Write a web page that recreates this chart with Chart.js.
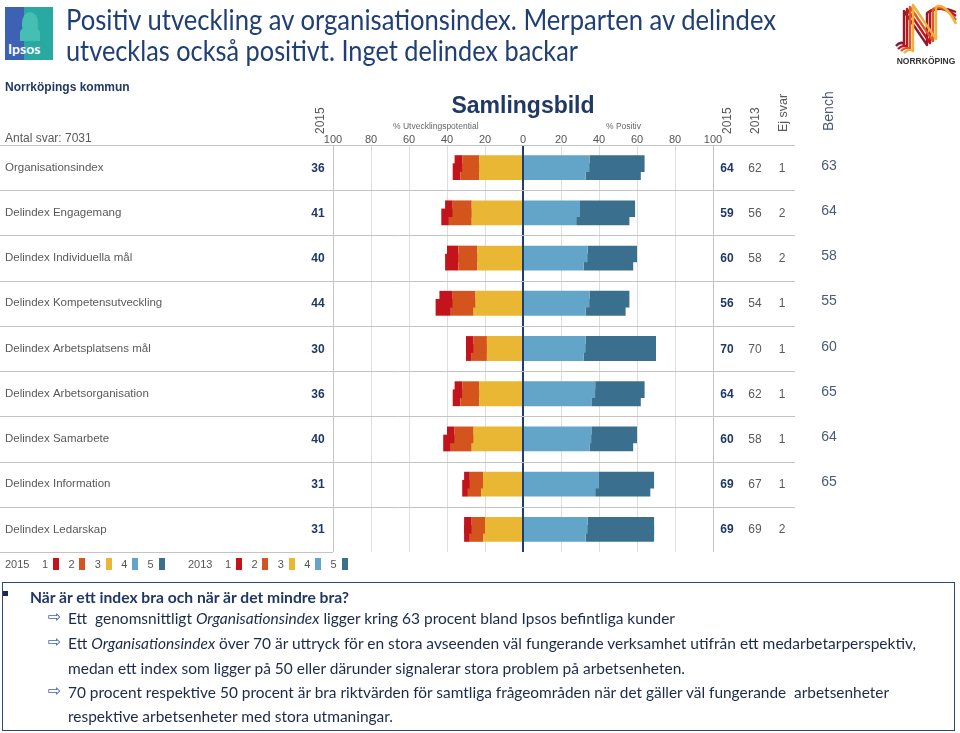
<!DOCTYPE html>
<html><head><meta charset="utf-8">
<script src="https://cdn.jsdelivr.net/npm/chart.js@4/dist/chart.umd.min.js"></script>
<style>
body{margin:0;width:960px;height:733px;position:relative;background:#fff;font-family:"Liberation Sans",Arial,sans-serif;overflow:hidden}
.a{position:absolute;white-space:nowrap}
.rot{position:absolute;white-space:nowrap;transform:rotate(-90deg);text-align:left}
.fit{transform-origin:0 50%}
.box{position:absolute;left:2px;top:582px;width:953px;height:149px;border:1.5px solid #2a4777;box-sizing:border-box}
.bx{position:absolute;white-space:nowrap;font-family:Lato,"Open Sans",sans-serif;font-size:16px;color:#1c2a4a;line-height:20px}
.arr{position:absolute;font-family:"DejaVu Sans",sans-serif;font-size:16px;color:#3b62b0;line-height:20px}
.tt{position:absolute;white-space:nowrap;font-family:Lato,"Open Sans",sans-serif;font-size:28px;line-height:31px;color:#1f3f75}
</style></head><body>
<canvas id="c" width="960" height="733" style="position:absolute;left:0;top:0"></canvas>

<!-- Ipsos logo -->
<div class="a" style="left:5px;top:7px;width:48px;height:53px;background:linear-gradient(90deg,#3d62b3 0%,#3d62b3 40%,#2aa9a2 40%,#2aa9a2 100%)">
  <div style="position:absolute;left:17px;top:5px;width:16px;height:22px;border-radius:50% 50% 40% 40%;background:#45bfb3"></div>
  <div style="position:absolute;left:15px;top:20px;width:20px;height:14px;border-radius:40% 40% 0 0;background:#45bfb3"></div>
  <div style="position:absolute;left:3px;top:33px;color:#fff;font-weight:bold;font-size:14px;font-family:Lato,'Liberation Sans',sans-serif">Ipsos</div>
</div>

<div class="tt fit" data-w="710" style="left:66px;top:4px">Positiv utveckling av organisationsindex. Merparten av delindex</div>
<div class="tt fit" data-w="512" style="left:66px;top:35px">utvecklas också positivt. Inget delindex backar</div>

<!-- Norrköping logo -->
<svg class="a" style="left:893px;top:2px" width="66" height="66" viewBox="0 0 66 66">
  <g fill="none" stroke-width="2.4" stroke-linejoin="round">
    <path d="M3 44 Q7 39 11 42 L11 9 L34 43 L34 11 Q46 3 63 10" stroke="#8c1d2e"/>
    <path d="M5 47 Q10 42 14 45 L14 7 L37 41 L37 9 Q48 2 63 14" stroke="#c3141c"/>
    <path d="M8 49 Q13 44 17 47 L17 5 L40 39 L40 7 Q50 1 63 18" stroke="#e0571f"/>
    <path d="M11 51 Q16 46 20 49 L20 3 L43 37 L43 5 Q52 0 63 22" stroke="#f0b03e"/>
  </g>
  <text x="33" y="62" text-anchor="middle" font-family="Liberation Sans" font-weight="bold" font-size="8.5" fill="#333">NORRKÖPING</text>
</svg>

<div class="a" style="left:5px;top:80px;font-size:12px;font-weight:bold;color:#1f3864">Norrköpings kommun</div>
<div class="a" style="left:5px;top:131px;font-size:12px;color:#595959">Antal svar: 7031</div>

<div class="a" style="left:0;width:1046px;top:92px;text-align:center;font-size:23px;font-weight:bold;color:#1f3864">Samlingsbild</div>
<div class="a" style="left:393px;top:121px;font-size:8.5px;color:#666">% Utvecklingspotential</div>
<div class="a" style="left:606px;top:121px;font-size:8.5px;color:#666">% Positiv</div>

<div class="rot" style="left:295px;top:102px;width:50px;height:14px;line-height:14px;font-size:12px;color:#595959">2015</div>
<div class="rot" style="left:702px;top:102px;width:50px;height:14px;line-height:14px;font-size:12px;color:#595959">2015</div>
<div class="rot" style="left:730px;top:102px;width:50px;height:14px;line-height:14px;font-size:12px;color:#595959">2013</div>
<div class="rot" style="left:758px;top:100px;width:50px;height:14px;line-height:14px;font-size:12.5px;color:#595959">Ej svar</div>
<div class="rot" style="left:803px;top:98px;width:50px;height:16px;line-height:16px;font-size:14px;color:#4a5a75">Bench</div>

<div id="cols"></div>
<div id="legend"></div>

<div class="box"></div>
<div class="a" style="left:3px;top:591px;width:5px;height:5px;background:#1c2a4a"></div>
<div class="bx fit" data-w="319" style="left:30px;top:587px;font-weight:bold;color:#1f3864">När är ett index bra och när är det mindre bra?</div>
<div class="arr" style="left:48px;top:607px">⇨</div>
<div class="bx fit" data-w="607" style="left:68px;top:608px">Ett&nbsp; genomsnittligt <i>Organisationsindex</i> ligger kring 63 procent bland Ipsos befintliga kunder</div>
<div class="arr" style="left:48px;top:632px">⇨</div>
<div class="bx fit" data-w="848" style="left:68px;top:633px">Ett <i>Organisationsindex</i> över 70 är uttryck för en stora avseenden väl fungerande verksamhet utifrån ett medarbetarperspektiv,</div>
<div class="bx fit" data-w="617" style="left:68px;top:658px">medan ett index som ligger på 50 eller därunder signalerar stora problem på arbetsenheten.</div>
<div class="arr" style="left:48px;top:681px">⇨</div>
<div class="bx fit" data-w="821" style="left:68px;top:682px">70 procent respektive 50 procent är bra riktvärden för samtliga frågeområden när det gäller väl fungerande&nbsp; arbetsenheter</div>
<div class="bx fit" data-w="325" style="left:68px;top:706px">respektive arbetsenheter med stora utmaningar.</div>

<script>
const categories = ['Organisationsindex','Delindex Engagemang','Delindex Individuella mål','Delindex Kompetensutveckling','Delindex Arbetsplatsens mål','Delindex Arbetsorganisation','Delindex Samarbete','Delindex Information','Delindex Ledarskap'];
// 2015 share per answer step 1..5
const s2015_1 = [4,4,6,7,4,4,4,3,4];
const s2015_2 = [9,10,10,12,7,9,10,7,7];
const s2015_3 = [23,27,24,25,19,23,26,21,20];
const s2015_4 = [35,30,34,35,33,38,36,40,34];
const s2015_5 = [29,29,26,21,37,26,24,29,35];
// 2013 share per answer step 1..5
const s2013_1 = [4,4,7,8,3,4,4,3,3];
const s2013_2 = [10,12,10,12,8,10,11,7,7];
const s2013_3 = [23,27,24,26,19,23,27,22,21];
const s2013_4 = [33,28,32,33,32,36,35,38,33];
const s2013_5 = [29,28,26,21,38,26,23,29,36];
// table columns
const neg2015 = [36,41,40,44,30,36,40,31,31];
const pos2015 = [64,59,60,56,70,64,60,69,69];
const pos2013 = [62,56,58,54,70,62,58,67,69];
const ejSvar = [1,2,2,1,1,1,1,1,2];
const bench = [63,64,58,55,60,65,64,65,null];
const stepLabels = ['1','2','3','4','5'];
const xMin = -100, xMax = 100, xStep = 20;

const colors = ['#c3141c','#d4541e','#e9b733','#63a5c8','#3a6f8e'];
const neg = a => a.map(v => -v);

const datasets = [
  {label:'2015 3', data:neg(s2015_3), backgroundColor:colors[2], stack:'2015'},
  {label:'2015 2', data:neg(s2015_2), backgroundColor:colors[1], stack:'2015'},
  {label:'2015 1', data:neg(s2015_1), backgroundColor:colors[0], stack:'2015'},
  {label:'2015 4', data:s2015_4, backgroundColor:colors[3], stack:'2015'},
  {label:'2015 5', data:s2015_5, backgroundColor:colors[4], stack:'2015'},
  {label:'2013 3', data:neg(s2013_3), backgroundColor:colors[2], stack:'2013'},
  {label:'2013 2', data:neg(s2013_2), backgroundColor:colors[1], stack:'2013'},
  {label:'2013 1', data:neg(s2013_1), backgroundColor:colors[0], stack:'2013'},
  {label:'2013 4', data:s2013_4, backgroundColor:colors[3], stack:'2013'},
  {label:'2013 5', data:s2013_5, backgroundColor:colors[4], stack:'2013'}
];

const rowLines = {
  id:'rowLines',
  beforeDatasetsDraw(chart){
    const ctx = chart.ctx, a = chart.chartArea, n = categories.length;
    const h = (a.bottom - a.top) / n;
    ctx.save();
    ctx.strokeStyle = '#c4c4c4'; ctx.lineWidth = 1;
    for (let i = 0; i < n; i++){
      const y = Math.round(a.top + i*h) + 0.5;
      ctx.beginPath(); ctx.moveTo(0, y); ctx.lineTo(795, y); ctx.stroke();
    }
    const yb = Math.round(a.bottom) + 0.5;
    ctx.beginPath(); ctx.moveTo(0, yb); ctx.lineTo(a.left, yb); ctx.stroke();
    ctx.restore();
  }
};

const chart = new Chart(document.getElementById('c'), {
  type:'bar',
  data:{labels:categories, datasets},
  options:{
    responsive:false, animation:false, indexAxis:'y',
    layout:{padding:{left:5,right:247,top:125,bottom:181}},
    datasets:{bar:{categoryPercentage:0.36, barPercentage:2.05, borderWidth:0}},
    plugins:{legend:{display:false}, tooltip:{enabled:false}},
    scales:{
      x:{position:'top', stacked:true, min:xMin, max:xMax,
        ticks:{stepSize:xStep, callback:v => Math.abs(v), color:'#555', font:{family:'Liberation Sans', size:11}, padding:-2},
        grid:{drawTicks:false,
          color:c => c.tick && c.tick.value === 0 ? '#1f3d6e' : (c.tick && Math.abs(c.tick.value) === 100 ? '#c4c4c4' : '#dedede'),
          lineWidth:c => c.tick && c.tick.value === 0 ? 2 : 1},
        border:{display:false},
        afterFit:s => { s.height = 20; }
      },
      y:{
        ticks:{crossAlign:'far', color:'#595959', font:{family:'Liberation Sans', size:11.5}},
        grid:{display:false}, border:{display:false},
        afterFit:s => { s.width = 328; }
      }
    }
  },
  plugins:[rowLines]
});

// table columns placed on the chart's own row positions
const cols = document.getElementById('cols');
const ys = chart.scales.y;
function put(txt, cx, cy, style){
  if (txt === null || txt === undefined) return;
  const d = document.createElement('div');
  d.className = 'a';
  d.style.cssText = `left:${cx-20}px;width:40px;text-align:center;top:${cy-8}px;height:16px;line-height:16px;` + style;
  d.textContent = txt;
  cols.appendChild(d);
}
categories.forEach((c, i) => {
  const cy = ys.getPixelForValue(i);
  put(neg2015[i], 318, cy, 'font-size:12px;font-weight:bold;color:#1f3864');
  put(pos2015[i], 727, cy, 'font-size:12px;font-weight:bold;color:#1f3864');
  put(pos2013[i], 755, cy, 'font-size:12px;color:#595959');
  put(ejSvar[i], 782, cy, 'font-size:12px;color:#595959');
  put(bench[i], 829, cy - 3, 'font-size:14px;color:#4a5a75');
});

// legend
const lg = document.getElementById('legend');
function legendGroup(year, x0){
  const y = 557;
  let h = `<div class="a" style="left:${x0}px;top:${y}px;font-size:11px;line-height:14px;color:#555">${year}</div>`;
  stepLabels.forEach((s, k) => {
    const lx = x0 + 37 + k*26.4;
    h += `<div class="a" style="left:${lx}px;top:${y}px;font-size:11px;line-height:14px;color:#555">${s}</div>`;
    h += `<div class="a" style="left:${lx+11}px;top:${y+1}px;width:6px;height:12px;background:${colors[k]}"></div>`;
  });
  return h;
}
lg.innerHTML = legendGroup('2015', 5) + legendGroup('2013', 188);

// fit wide text lines to the widths seen in the reference
document.querySelectorAll('.fit').forEach(el => {
  const w = el.getBoundingClientRect().width;
  const t = +el.dataset.w;
  if (w > 0) el.style.transform = `scaleX(${t / w})`;
});
</script>
</body></html>
